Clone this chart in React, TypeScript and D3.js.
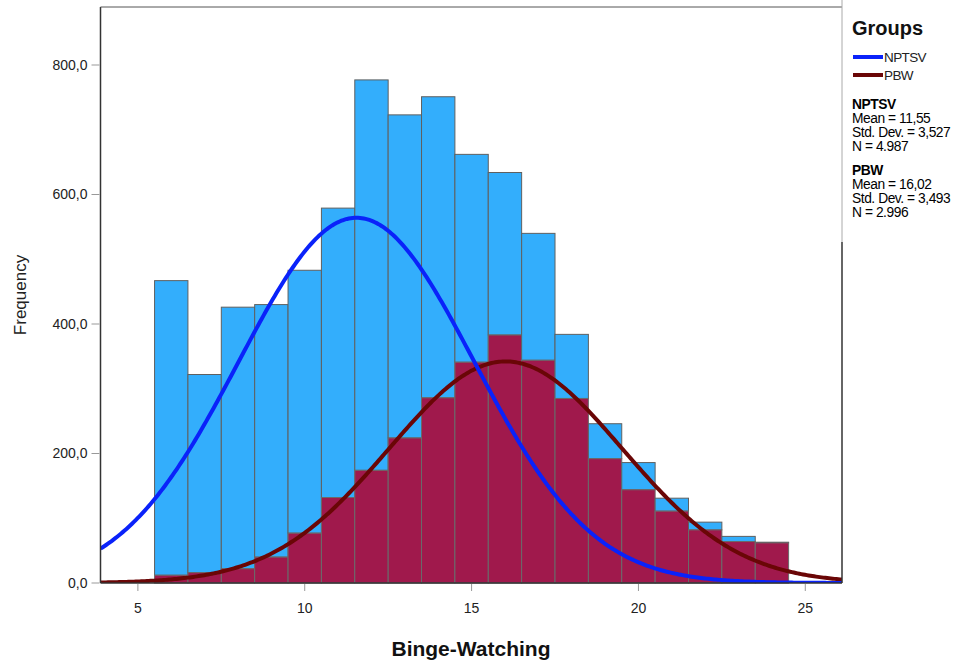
import React from "react";
import * as d3 from "d3";

const bins = [6, 7, 8, 9, 10, 11, 12, 13, 14, 15, 16, 17, 18, 19, 20, 21, 22, 23, 24];
const pbwCounts = [12, 16, 22, 40, 77, 132, 174, 224, 286, 341, 383, 344, 285, 192, 144, 111, 82, 64, 62];
const nptsvCounts = [455, 306, 404, 390, 406, 447, 603, 499, 465, 321, 251, 196, 99, 54, 42, 20, 12, 8, 1];
const xTicks = [5, 10, 15, 20, 25];
const yTicks = [0, 200, 400, 600, 800];
const groups = ["NPTSV", "PBW"];
const means = [11.55, 16.02];
const sds = [3.527, 3.493];
const ns = [4987, 2996];
const meanLabels = ["11,55", "16,02"];
const sdLabels = ["3,527", "3,493"];
const nLabels = ["4.987", "2.996"];

const W = 966;
const H = 664;
const left = 100.5;
const right = 842;
const top = 7;
const bottom = 583;

export default function App() {
  const x = d3.scaleLinear().domain([3.88, 26.1]).range([left, right]);
  const y = d3.scaleLinear().domain([0, 889.6]).range([bottom, top]);
  const binW = 1;
  const colors = { bar: ["#33aefc", "#a0194c"], line: ["#0a22fa", "#6a0606"] };

  const curve = (i: number) => {
    const pts = d3.range(0, 401).map((k) => {
      const xv = 3.88 + (k / 400) * (26.1 - 3.88);
      const z = (xv - means[i]) / sds[i];
      const v = (ns[i] * binW) / (sds[i] * Math.sqrt(2 * Math.PI)) * Math.exp(-0.5 * z * z);
      return [xv, v] as [number, number];
    });
    return d3.line<[number, number]>().x((d) => x(d[0])).y((d) => y(d[1])).curve(d3.curveLinear)(pts) || "";
  };

  const font = "Liberation Sans, Arial, sans-serif";
  return (
    <svg width={W} height={H} style={{ position: "absolute", left: 0, top: 0, background: "#fff" }} fontFamily={font}>
      <defs>
        <clipPath id="plotClip">
          <rect x={left} y={top} width={right - left} height={bottom - top} />
        </clipPath>
      </defs>
      <g>
        {bins.map((b, i) => {
          const x0 = x(b - 0.5);
          const x1 = x(b + 0.5);
          const p = pbwCounts[i];
          const t = p + nptsvCounts[i];
          return (
            <g key={b}>
              <rect x={x0} y={y(t)} width={x1 - x0} height={y(p) - y(t)} fill={colors.bar[0]} stroke="#5f6060" strokeWidth={1} />
              <rect x={x0} y={y(p)} width={x1 - x0} height={y(0) - y(p)} fill={colors.bar[1]} stroke="#6a6a6a" strokeWidth={1} />
            </g>
          );
        })}
      </g>
      <g clipPath="url(#plotClip)">
        <path d={curve(1)} fill="none" stroke={colors.line[1]} strokeWidth={4} />
        <path d={curve(0)} fill="none" stroke={colors.line[0]} strokeWidth={4} />
      </g>
      <line x1={left} x2={left} y1={top} y2={bottom} stroke="#333" strokeWidth={1.5} />
      <line x1={left} x2={right} y1={top} y2={top} stroke="#555" strokeWidth={1} />
      <line x1={left} x2={right} y1={bottom} y2={bottom} stroke="#333" strokeWidth={1.5} />
      <line x1={right} x2={right} y1={242} y2={bottom} stroke="#333" strokeWidth={1.5} />
      <line x1={right} x2={right} y1={0} y2={242} stroke="#aaa" strokeWidth={1} />
      {yTicks.map((t) => (
        <g key={t}>
          <line x1={left - 9} x2={left - 1} y1={y(t)} y2={y(t)} stroke="#999" strokeWidth={1} />
          <text x={left - 13} y={y(t)} dy="0.35em" textAnchor="end" fontSize={14} fill="#222">
            {t.toFixed(1).replace(".", ",")}
          </text>
        </g>
      ))}
      {xTicks.map((t) => (
        <g key={t}>
          <line x1={x(t)} x2={x(t)} y1={bottom + 1} y2={bottom + 8} stroke="#999" strokeWidth={1} />
          <text x={x(t)} y={bottom + 25} dy="0.35em" textAnchor="middle" fontSize={14} fill="#222">
            {t}
          </text>
        </g>
      ))}
      <text x={471} y={656} textAnchor="middle" fontSize={21} fontWeight="bold" fill="#111">Binge-Watching</text>
      <text transform={`translate(26,${(top + bottom) / 2}) rotate(-90)`} textAnchor="middle" fontSize={17} fill="#222">Frequency</text>
      <text x={852} y={35} fontSize={20} fontWeight="bold" fill="#111">Groups</text>
      {groups.map((g, i) => (
        <g key={g}>
          <line x1={853} x2={883} y1={57 + i * 18} y2={57 + i * 18} stroke={colors.line[i]} strokeWidth={4} />
          <text x={884} y={57 + i * 18} dy="0.35em" fontSize={13.5} fill="#222" letterSpacing={-0.6}>{g}</text>
        </g>
      ))}
      {groups.map((g, i) => {
        const y0 = 109 + i * 66;
        const lines = [g, `Mean = ${meanLabels[i]}`, `Std. Dev. = ${sdLabels[i]}`, `N = ${nLabels[i]}`];
        return (
          <g key={"s" + g}>
            {lines.map((l, k) => (
              <text key={k} x={852} y={y0 + k * 14} fontSize={13.8} fill="#000" fontWeight={k === 0 ? "bold" : "normal"} letterSpacing={-0.45}>{l}</text>
            ))}
          </g>
        );
      })}
    </svg>
  );
}
